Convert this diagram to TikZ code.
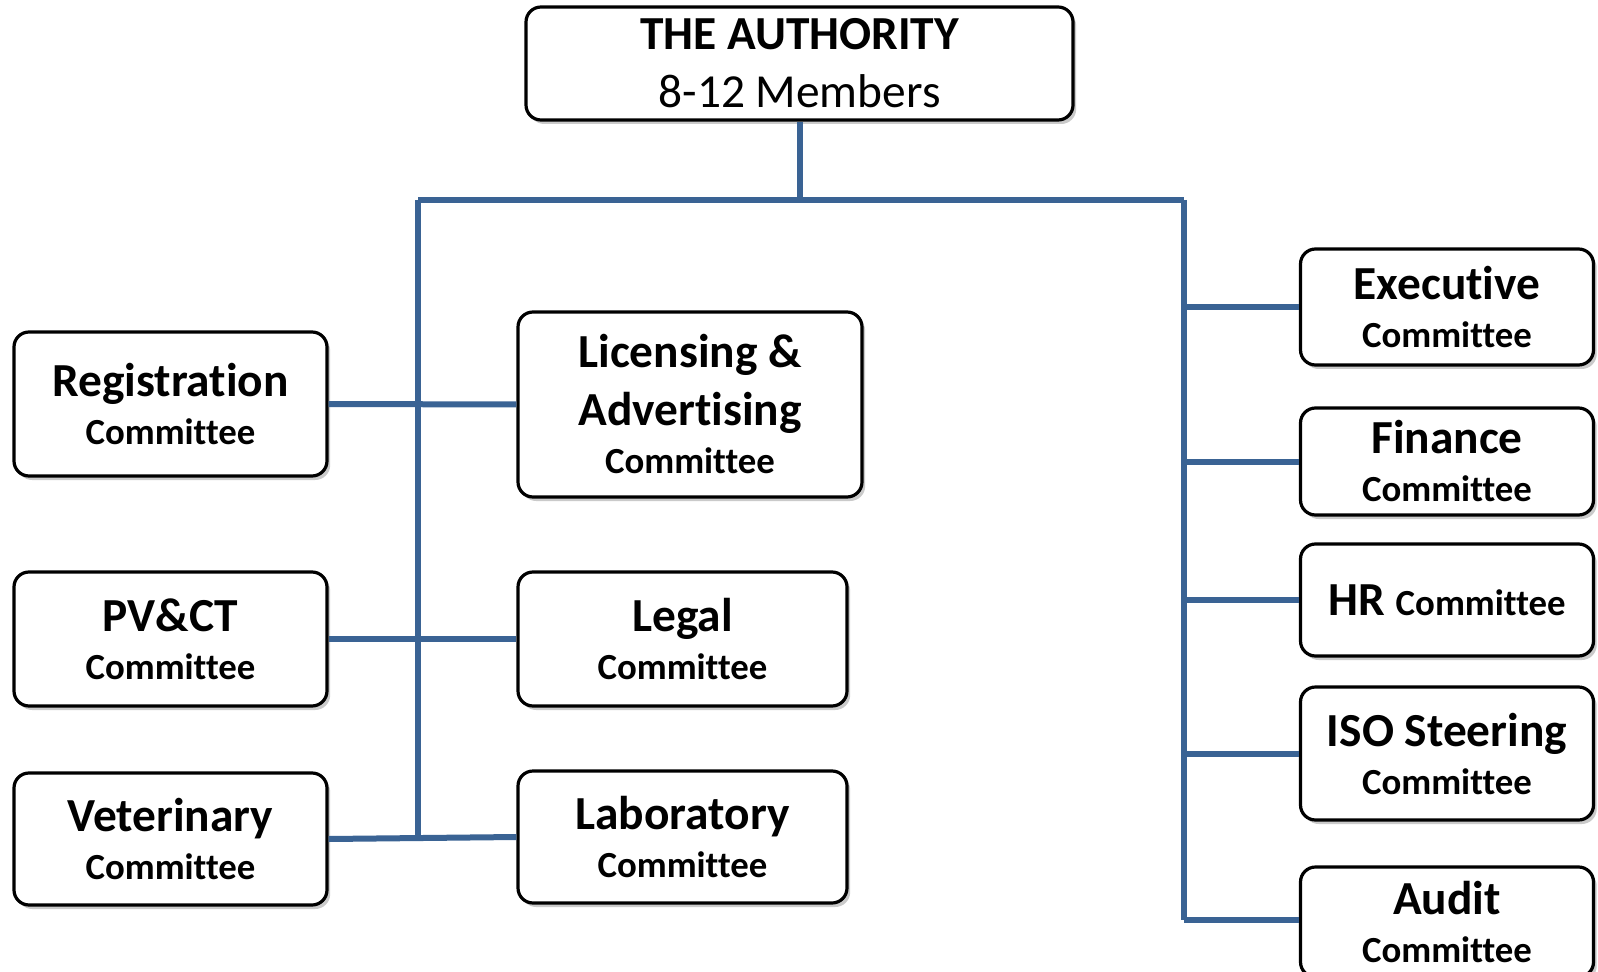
\documentclass[tikz,border=0pt]{standalone}
\usepackage{fontspec}
\setmainfont{Carlito}[Ligatures={NoCommon}]
\usepackage{tikz}
\usetikzlibrary{shadows}

\definecolor{linkblue}{RGB}{58,99,148}
\newcommand{\headfont}{\fontsize{23.7}{29}\selectfont}
\newcommand{\subfont}{\fontsize{18.4}{24}\selectfont\bfseries}

\begin{document}
\begin{tikzpicture}[x=0.5pt, y=-0.5pt,
    unit/.style={draw, line width=1.6pt, rounded corners=7.5pt, fill=white,
        align=center, inner sep=0pt, font=\headfont\bfseries,
        drop shadow={shadow xshift=1.6pt, shadow yshift=-2pt, opacity=0.35, fill=black!60}},
    link/.style={linkblue, line width=3pt}]
    \useasboundingbox (0,0) rectangle (1598,972);

    % The authority on top
    \node[unit, minimum width=273.5pt, minimum height=56.5pt] (auth) at (799.5,63.5)
        {THE AUTHORITY\\{\mdseries 8-12 Members}};

    % Left column
    \node[unit, minimum width=156.5pt, minimum height=72pt] (reg) at (170.5,404)
        {Registration\\[-5pt]{\subfont Committee}};
    \node[unit, minimum width=156.5pt, minimum height=67pt] (pvct) at (170.5,639)
        {PV\&CT\\[-5pt]{\subfont Committee}};
    \node[unit, minimum width=156.5pt, minimum height=66pt] (vet) at (170.5,839)
        {Veterinary\\[-5pt]{\subfont Committee}};

    % Middle column
    \node[unit, minimum width=172pt, minimum height=92.5pt] (lic) at (690,404.5)
        {Licensing \&\\Advertising\\[-5pt]{\subfont Committee}};
    \node[unit, minimum width=164.5pt, minimum height=67pt] (legal) at (682.5,639)
        {Legal\\[-5pt]{\subfont Committee}};
    \node[unit, minimum width=164.5pt, minimum height=66pt] (lab) at (682.5,837)
        {Laboratory\\[-5pt]{\subfont Committee}};

    % Right column
    \node[unit, minimum width=146.5pt, minimum height=58pt] (exe) at (1447,307)
        {Executive\\[-5pt]{\subfont Committee}};
    \node[unit, minimum width=146.5pt, minimum height=53.5pt] (fin) at (1447,461.5)
        {Finance\\[-5pt]{\subfont Committee}};
    \node[unit, minimum width=146.5pt, minimum height=56pt] (hr) at (1447,600)
        {HR {\subfont Committee}};
    \node[unit, minimum width=146.5pt, minimum height=66.5pt] (iso) at (1447,753.5)
        {ISO Steering\\[-5pt]{\subfont Committee}};
    \node[unit, minimum width=146.5pt, minimum height=55pt] (audit) at (1447,922)
        {Audit\\[-5pt]{\subfont Committee}};

    % Bus lines
    \coordinate (busL) at (418,200);
    \coordinate (busR) at (1184,200);
    \coordinate (endL) at (418,838);
    \coordinate (endR) at (1184,920);
    \draw[link] (auth.south) -- (auth.south |- busL);
    \draw[link] (busL) -- (busR);
    \draw[link] (busL) -- (endL);
    \draw[link] (busR) -- (endR);

    % Branches
    \draw[link] (reg.east) -- (lic.west);
    \draw[link] (pvct.east) -- (legal.west);
    \draw[link] (vet.east) -- (lab.west);
    \foreach \n in {exe, fin, hr, iso}
        \draw[link] (\n.west -| busR) -- (\n.west);
    \draw[link] (endR) -- (endR -| audit.west);
\end{tikzpicture}
\end{document}
